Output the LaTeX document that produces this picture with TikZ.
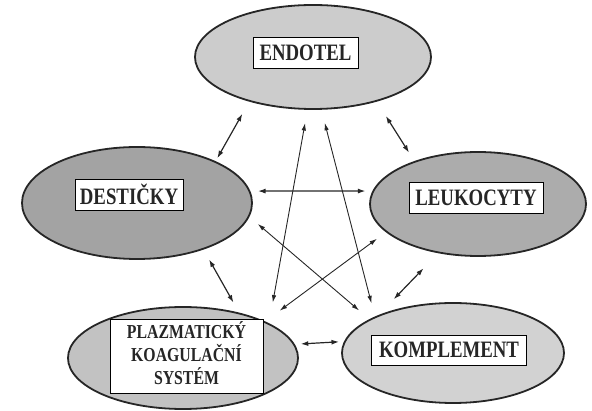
\documentclass[tikz,border=0pt]{standalone}
\usepackage{fontspec}
\setmainfont{Liberation Serif}
\usepackage{graphicx}
\usetikzlibrary{shapes.geometric,arrows.meta}
\newcommand\tallword[1]{\scalebox{1}[1.25]{#1}}

\begin{document}
\begin{tikzpicture}[
              x=1pt,y=-1pt,
              blob/.style={
                  draw=black!85,
                  ellipse,
                  line width=1.8pt,
                  inner sep=0pt,
                },
              tag/.style={
                  draw,
                  fill=white,
                  line width=0.6pt,
                  inner sep=0pt,
                  minimum height=31pt,
                  font=\fontsize{18.8}{20}\selectfont\bfseries,
                  text=black!85,
                },
              link/.style={{Latex[length=7.5pt,width=5pt]}-{Latex[length=7.5pt,width=5pt]},line width=1.2pt,draw=black!85},
              far/.style={{Latex[length=7.5pt,width=4.5pt]}-{Latex[length=7.5pt,width=4.5pt]},line width=0.9pt,draw=black!85}
            ]
            \useasboundingbox (0,0) rectangle (592,411);
            \node[blob,fill=gray!40,minimum width=236pt,minimum height=104pt] (endotel) at (313,57) {};
            \node[blob,fill=gray!72,minimum width=230pt,minimum height=112pt] (desticky) at (137,203) {};
            \node[blob,fill=gray!65,minimum width=216pt,minimum height=104pt] (leukocyty) at (478,204) {};
            \node[blob,fill=gray!48,minimum width=230pt,minimum height=102pt] (plazma) at (183,358) {};
            \node[blob,fill=gray!35,minimum width=222pt,minimum height=100pt] (komplement) at (453,353) {};
            \node[tag,minimum width=105pt] (endotelTag) at (305.5,52.5) {\tallword{ENDOTEL}};
            \node[tag,minimum width=108pt] (desTag) at (129,194.5) {\tallword{DESTIČKY}};
            \node[tag,minimum width=134pt] (leuTag) at (476,198) {\tallword{LEUKOCYTY}};
            \node[tag,minimum width=153pt,minimum height=74pt,font=\fontsize{15.8}{16.4}\selectfont\bfseries] (plaTag) at (186.5,356)
            {\tallword{\begin{tabular}{@{}c@{}}PLAZMATICKÝ\\KOAGULAČNÍ\\SYSTÉM\end{tabular}}};
            \node[tag,minimum width=155pt,minimum height=30pt] (komTag) at (449,350) {\tallword{KOMPLEMENT}};
            % neighbours
            \draw[link,shorten <=14pt,shorten >=3.5pt] (endotel.215) -- (desticky.28);
            \draw[link,shorten <=17pt,shorten >=10pt] (endotel.325) -- (leukocyty.146);
            \draw[link,shorten <=7.7pt,shorten >=7pt] (desticky.6) -- (leukocyty.173.5);
            \draw[link,shorten <=11.4pt,shorten >=11.5pt] (desticky.325) -- (plazma.39.5);
            \draw[link,shorten <=21pt,shorten >=22pt] (leukocyty.231) -- (komplement.153);
            \draw[link,shorten <=6pt,shorten >=5pt] (plazma.7.8) -- (komplement.174.7);
            % across
            \draw[far,shorten <=13.4pt,shorten >=21pt] (endotel.264.4) -- (plazma.22.4);
            \draw[far,shorten <=13.5pt,shorten >=13.7pt] (endotel.279.4) -- (komplement.155.2);
            \draw[far,shorten <=11pt,shorten >=13.5pt] (desticky.353) -- (komplement.158);
            \draw[far,shorten <=11pt,shorten >=18pt] (leukocyty.197.7) -- (plazma.24.5);
          \end{tikzpicture}
\end{document}
